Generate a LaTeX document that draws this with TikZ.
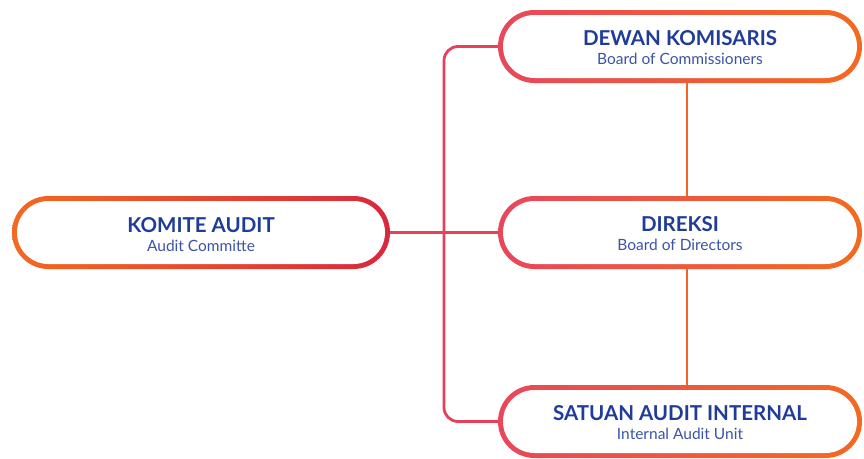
\documentclass[tikz,border=0pt]{standalone}
\usepackage{fontspec}
\setmainfont{Lato}
\usetikzlibrary{shapes.misc}
\definecolor{borange}{HTML}{F4691F}
\definecolor{bred}{HTML}{E3302F}
\definecolor{bcrim}{HTML}{D8283E}
\definecolor{bpink}{HTML}{E8475C}
\definecolor{bmid}{HTML}{EE5A45}
\definecolor{tblue}{HTML}{1F3C98}
\definecolor{sblue}{HTML}{3B54A6}
\definecolor{lred}{HTML}{E6405A}
\definecolor{lorange}{HTML}{F26524}
\tikzset{
  outerpill/.style={rounded rectangle, inner sep=0pt, minimum width=#1, minimum height=73pt},
  innerpill/.style={rounded rectangle, inner sep=0pt, fill=white, minimum width=#1, minimum height=63pt},
  shadeL/.style={left color=borange, middle color=bred, right color=bcrim},
  shadeR/.style={left color=bpink, middle color=bmid, right color=borange},
  ttl/.style={anchor=base, inner sep=0pt, font=\bfseries\fontsize{20.5}{22}\selectfont, text=tblue},
  sub/.style={anchor=base, inner sep=0pt, font=\fontsize{15.5}{17}\selectfont, text=sblue},
  conn/.style={line width=2.8pt},
}
\begin{document}
\begin{tikzpicture}[x=1pt,y=-1pt]
\useasboundingbox (0,0) rectangle (864,458);
% outer pills
\node[outerpill=378pt, shadeL] (k) at (201,232.5) {};
\node[outerpill=364pt, shadeR] (dw) at (680,46.5) {};
\node[outerpill=364pt, shadeR] (d) at (680,232.5) {};
\node[outerpill=364pt, shadeR] (s) at (680,421.5) {};
% connectors
\coordinate (mx) at (444,232.5);
\draw[conn, lred] (k.east) -- (d.west);
\draw[conn, lred, rounded corners=14pt] (dw.west) -| (mx) |- (s.west);
\draw[conn, lorange] ([xshift=7pt]dw.south) -- ([xshift=7pt]d.north);
\draw[conn, lorange] ([xshift=7pt]d.south) -- ([xshift=7pt]s.north);
% inner pills
\node[innerpill=368pt] (ki) at (k) {};
\node[innerpill=354pt] (dwi) at (dw) {};
\node[innerpill=354pt] (di) at (d) {};
\node[innerpill=354pt] (si) at (s) {};
% texts
\node[ttl] (kt) at ([yshift=0pt]k.center) {KOMITE AUDIT};
\node[sub] (ks) at ([yshift=-19pt]k.center) {Audit Committe};
\node[ttl] (dwt) at ([yshift=1pt]dw.center) {DEWAN KOMISARIS};
\node[sub] (dws) at ([yshift=-18pt]dw.center) {Board of Commissioners};
\node[ttl] (dt) at ([yshift=1pt]d.center) {DIREKSI};
\node[sub] (ds) at ([yshift=-18pt]d.center) {Board of Directors};
\node[ttl] (st) at ([yshift=1pt]s.center) {SATUAN AUDIT INTERNAL};
\node[sub] (ss) at ([yshift=-18pt]s.center) {Internal Audit Unit};
\end{tikzpicture}
\end{document}
